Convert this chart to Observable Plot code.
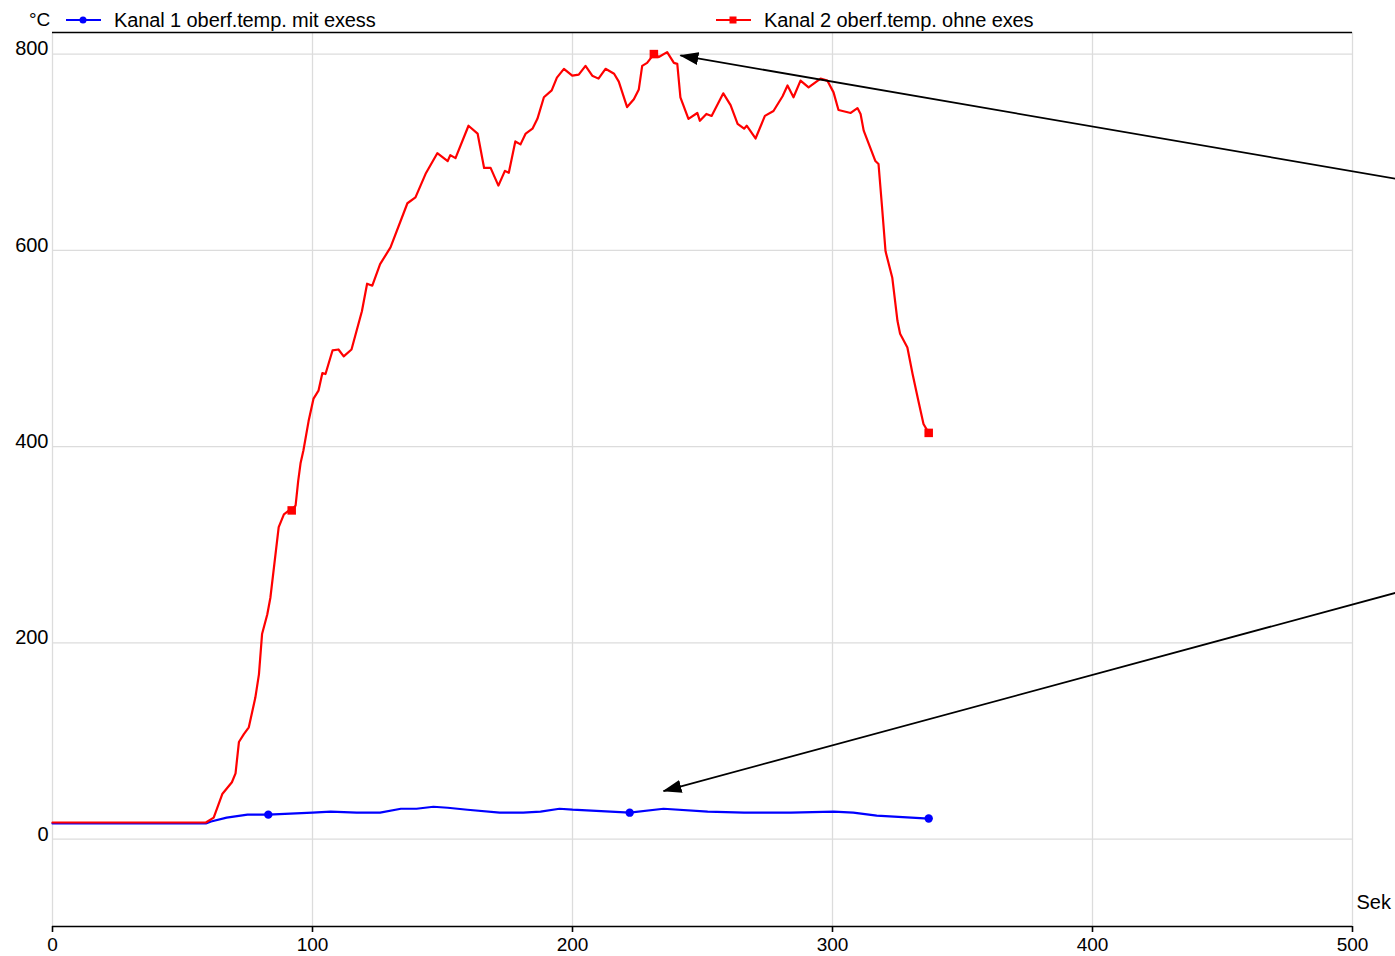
<!DOCTYPE html>
<html>
<head>
<meta charset="utf-8">
<script src="https://cdn.jsdelivr.net/npm/d3@7"></script>
<script src="https://cdn.jsdelivr.net/npm/@observablehq/plot@0.6"></script>
<style>
  html, body { margin: 0; padding: 0; background: #fff; overflow: hidden; }
  body { font-family: "Liberation Sans", Arial, sans-serif; color: #000; }
  #legend { position: relative; width: 1395px; height: 31px; font-size: 20px; }
  #legend .item { position: absolute; top: 10px; line-height: 20px; white-space: nowrap; letter-spacing: -0.1px; }
  #legend svg { position: absolute; top: 13px; }
  #chart svg { display: block; }
</style>
</head>
<body>
<div id="legend"></div>
<div id="chart"></div>
<script>
// ---- data (time in s, temperature in °C) ----
const seriesNames = ["Kanal 1 oberf.temp. mit exess", "Kanal 2 oberf.temp. ohne exes"];
const seriesColors = ["#0000ff", "#ff0000"];
const unitY = "°C";
const unitX = "Sek";

const kanal1 = [
  [0,16],[59,16],[61,18],[67,22],[75,25],[83,25],[91.5,26],[100,27],[107,28],[117,27],
  [126,27],[134,31],[140,31],[146.5,33],[152,32],[159.6,30],[172,27],[181,27],[187.7,28],
  [195,31],[200,30],[222,27],[235,31],[252,28],[266,27],[284,27],[300.5,28],[308,27],
  [317,24],[337,21]
];
const kanal2 = [
  [0,17],[59,17],[62,22],[65.3,46],[69,58],[70.4,67],[71.7,99],[73.6,107],[75.5,114],
  [78,144],[79.4,168],[80.6,209],[82.6,229],[83.8,246],[87,318],[89,331],[91,335],[92,335],
  [93.5,340],[94.5,365],[95.4,383],[96.5,396],[98.5,426],[100.4,449],[102.3,457],[103.8,475],
  [105,474],[107.7,498],[110,499],[112,492],[115,499],[119,538],[121,566],[123,564],[126,586],
  [130,603],[136.5,648],[139.6,654],[143.5,678],[148,699],[152,691],[153,697],[155,694],
  [160,727],[163.5,719],[166,684],[168.5,684],[171.5,666],[174,681],[175.5,679],[178,711],
  [180,708],[182,719],[184.6,724],[186.5,734],[189,756],[192,763],[194,776],[196.7,785],
  [199.9,778],[202.4,779],[205,788],[207.6,778],[210,775],[212.7,785],[216,780],[217.8,772],
  [221,746],[223.6,754],[225.5,764],[226.8,788],[228.7,791],[231.3,800],[233.2,797],
  [236.4,802],[239,791],[240.3,790],[241.5,756],[244.6,734],[248,740],[249,732],[251.5,739],
  [253.5,737],[258,760],[260.8,748],[263.5,729],[266,724],[267,727],[270.4,714],[274,737],
  [277.3,742],[280.8,757],[282.7,768],[285,756],[287.7,773],[290.8,766],[295.4,775],
  [298,773],[300.4,761],[302.3,743],[307,740],[309.6,745],[310.8,739],[312,722],[316.5,691],
  [317.7,688],[319,646],[320.4,599],[323,572],[325,528],[326,515],[328.8,501],[330.8,474],
  [333,447],[335,423],[337,414]
];
// times at which the original plot shows a symbol
const kanal1MarkTimes = [83, 222, 337];
const kanal2MarkTimes = [92, 231.3, 337];

const xTicks = [0, 100, 200, 300, 400, 500];
const yTicks = [0, 200, 400, 600, 800];
const xDomain = [0, 500];
const yDomain = [-89, 822];

// annotation arrows: [tailTime, tailTemp, tipTime, tipTemp]
const arrows = [
  [516.5, 673, 241.5, 798.6],
  [516.5, 251, 235, 49]
];

// ---- build tables ----
const toRows = (arr, s) => arr.map(([t, v]) => ({t, v, s}));
const rows1 = toRows(kanal1, seriesNames[0]);
const rows2 = toRows(kanal2, seriesNames[1]);
const marks1 = rows1.filter(d => kanal1MarkTimes.includes(d.t));
const marks2 = rows2.filter(d => kanal2MarkTimes.includes(d.t));
const arrowRows = arrows.map(([x1, y1, x2, y2]) => ({x1, y1, x2, y2}));

const NS = "http://www.w3.org/2000/svg";
function filledHead(color) {
  const m = document.createElementNS(NS, "marker");
  m.setAttribute("viewBox", "0 -7 19 14");
  m.setAttribute("markerWidth", 19);
  m.setAttribute("markerHeight", 14);
  m.setAttribute("markerUnits", "userSpaceOnUse");
  m.setAttribute("refX", 18);
  m.setAttribute("refY", 0);
  m.setAttribute("orient", "auto");
  const p = document.createElementNS(NS, "path");
  p.setAttribute("d", "M0,-6.5L19,0L0,6.5Z");
  p.setAttribute("fill", "#000");
  p.setAttribute("stroke", "none");
  m.appendChild(p);
  return m;
}

// ---- legend (above the svg) ----
const legend = document.getElementById("legend");
legend.innerHTML = `
  <div class="item" style="left:29px;font-size:19px">${unitY}</div>
  <svg width="36" height="14" style="left:66px"><line x1="0" x2="35" y1="7" y2="7" stroke="${seriesColors[0]}" stroke-width="2"/><circle cx="17" cy="7" r="3.5" fill="${seriesColors[0]}"/></svg>
  <div class="item" style="left:114px">${seriesNames[0]}</div>
  <svg width="36" height="14" style="left:716px"><line x1="0" x2="35" y1="7" y2="7" stroke="${seriesColors[1]}" stroke-width="2"/><rect x="13.5" y="3.5" width="7" height="7" fill="${seriesColors[1]}"/></svg>
  <div class="item" style="left:764px">${seriesNames[1]}</div>
`;

// ---- chart ----
const chart = Plot.plot({
  width: 1395,
  height: 925,
  marginLeft: 52,
  marginRight: 43,
  marginTop: 1,
  marginBottom: 30,
  style: {fontFamily: '"Liberation Sans", Arial, sans-serif', fontSize: "20px", color: "#000", background: "#fff"},
  x: {domain: xDomain, label: null},
  y: {domain: yDomain, label: null},
  marks: [
    Plot.gridX(xTicks, {stroke: "#dcdcdc", strokeOpacity: 1, strokeWidth: 1.3}),
    Plot.gridY(yTicks, {stroke: "#dcdcdc", strokeOpacity: 1, strokeWidth: 1.3}),
    Plot.ruleY([yDomain[1]], {stroke: "#000", strokeWidth: 1.6}),
    Plot.ruleY([yDomain[0]], {stroke: "#000", strokeWidth: 1.6}),
    Plot.axisX({ticks: xTicks, tickSize: 6, tickPadding: 5, fontSize: 19, stroke: "#000", strokeWidth: 1.6, label: null}),
    Plot.axisY({ticks: yTicks, tickSize: 0, tickPadding: 4, fontSize: 20, dy: -5, label: null}),
    Plot.text([unitX], {frameAnchor: "bottom-right", textAnchor: "start", dx: 4, dy: -18, fontSize: 20, text: d => d}),
    Plot.line(rows1, {x: "t", y: "v", stroke: seriesColors[0], strokeWidth: 2.2}),
    Plot.line(rows2, {x: "t", y: "v", stroke: seriesColors[1], strokeWidth: 2.2}),
    Plot.dot(marks1, {x: "t", y: "v", fill: seriesColors[0], r: 4.2, symbol: "circle"}),
    Plot.dot(marks2, {x: "t", y: "v", fill: seriesColors[1], r: 4.8, symbol: "square"}),
    Plot.link(arrowRows, {x1: "x1", y1: "y1", x2: "x2", y2: "y2", stroke: "#000", strokeWidth: 1.8, markerEnd: filledHead})
  ]
});
document.getElementById("chart").appendChild(chart);
</script>
</body>
</html>
